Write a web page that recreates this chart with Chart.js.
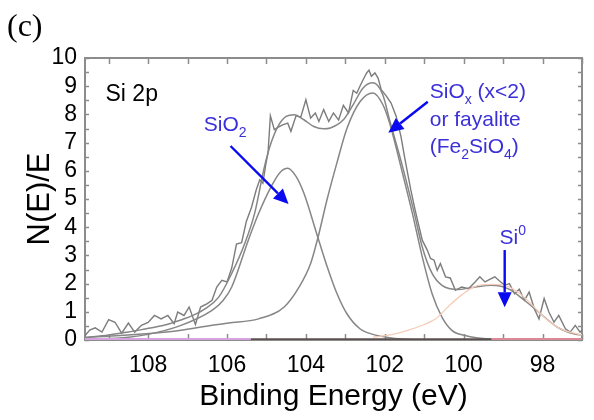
<!DOCTYPE html>
<html><head><meta charset="utf-8">
<script src="https://cdn.jsdelivr.net/npm/chart.js@4.4.0/dist/chart.umd.min.js"></script>
<style>html,body{margin:0;padding:0;background:#fff}#wrap{width:594px;height:420px;position:relative}</style>
</head><body><div id="wrap"><canvas id="c" width="594" height="420"></canvas></div>
<script>
// ---- data (binding energy in eV, intensity N(E)/E) ----
const rawBE = [109.62,109.48,109.34,109.17,109.00,108.84,108.67,108.50,108.34,108.17,108.00,107.84,107.67,107.50,107.34,107.25,107.09,106.96,106.80,106.67,106.50,106.38,106.26,106.13,106.00,105.88,105.76,105.63,105.51,105.38,105.26,105.17,105.09,105.02,104.96,104.90,104.80,104.70,104.59,104.46,104.38,104.25,104.13,104.00,103.88,103.76,103.67,103.55,103.42,103.30,103.17,103.05,102.92,102.80,102.71,102.63,102.55,102.46,102.40,102.34,102.25,102.17,102.09,101.96,101.84,101.71,101.59,101.50,101.42,101.34,101.25,101.17,101.05,100.92,100.84,100.75,100.67,100.59,100.46,100.34,100.21,100.05,99.88,99.71,99.59,99.46,99.34,99.21,99.09,98.96,98.84,98.71,98.59,98.46,98.34,98.21,98.09,97.96,97.84,97.71,97.59,97.42,97.30,97.17,97.05,96.92];
const rawVal = [0.12,0.35,0.43,0.28,0.72,0.63,0.24,0.60,0.28,0.52,0.62,0.87,0.75,0.87,0.58,0.99,0.87,1.17,0.55,1.17,1.29,1.41,1.88,2.12,2.06,2.55,3.40,3.45,4.20,4.70,5.32,5.68,5.56,6.20,6.63,7.95,7.46,7.55,7.63,7.69,7.40,7.95,7.90,8.52,7.87,8.05,7.75,8.17,7.75,8.05,7.80,8.32,8.05,8.85,8.75,9.00,9.23,9.47,9.57,9.35,9.47,9.29,8.88,8.65,8.40,7.93,7.22,6.50,5.91,5.32,4.73,4.25,3.54,3.18,2.89,2.83,2.47,2.71,2.24,2.20,1.76,1.88,1.82,2.06,2.24,2.06,2.15,2.24,2.09,1.94,2.00,1.64,1.80,1.41,1.70,1.11,0.75,1.47,0.99,0.63,0.87,0.40,0.28,0.52,0.28,0.46];

const envBE  = [109.6,109.0,108.5,108.05,107.6,107.21,106.85,106.55,106.21,105.88,105.55,105.3,105.05,104.88,104.71,104.5,104.3,104.05,103.8,103.55,103.38,103.05,102.8,102.55,102.3,102.05,101.88,101.55,101.25,101.05,100.8,100.55,100.13,99.71,99.3,98.88,98.46,98.05,97.63,97.21,96.9];
const envVal = [0.08,0.18,0.28,0.40,0.52,0.69,0.88,1.11,1.52,2.36,3.42,4.49,6.15,7.00,7.57,7.93,7.99,7.81,7.57,7.49,7.52,7.81,8.35,8.94,9.12,8.70,7.81,6.15,4.49,3.30,2.36,1.94,1.79,1.88,1.94,1.82,1.41,0.93,0.46,0.22,0.16];

const sio2BE  = [109.6,108.5,108.0,107.2,106.38,106.1,105.88,105.46,105.21,104.88,104.65,104.46,104.25,104.05,103.71,103.46,103.21,102.96,102.63,102.3,101.96,101.5,101.0,97.0];
const sio2Val = [0.02,0.10,0.20,0.50,1.05,1.40,1.88,3.54,4.45,5.44,5.95,6.09,5.80,5.20,3.70,2.60,1.64,0.93,0.40,0.20,0.10,0.03,0.01,0.0];

const sioxBE  = [109.7,108.05,107.21,106.38,105.96,105.2,104.55,104.17,103.88,103.70,103.46,103.21,102.96,102.63,102.3,102.05,101.88,101.55,101.3,101.05,100.8,100.55,100.3,99.96,99.5,99.0,97.0];
const sioxVal = [0.08,0.22,0.34,0.52,0.60,0.75,1.17,1.88,2.71,3.60,5.00,6.30,7.50,8.45,8.76,8.35,7.70,5.91,4.49,2.95,1.64,0.81,0.34,0.16,0.05,0.02,0.0];

const si0BE  = [102.3,101.8,101.38,101.0,100.71,100.38,100.05,99.71,99.3,98.96,98.63,98.3,97.96,97.55,97.13,96.9];
const si0Val = [0.10,0.20,0.36,0.55,0.75,1.20,1.60,1.90,1.97,1.94,1.70,1.29,0.81,0.40,0.22,0.15];

const baseBE1 = [109.6,105.4], baseVal1 = [0.03,0.03];
const baseBE2 = [105.4,99.3],  baseVal2 = [0.03,0.03];
const baseBE3 = [99.3,97.0],   baseVal3 = [0.03,0.03];

const xTickLabels = [108,106,104,102,100,98];

// ---- helpers ----
const pts = (xs, ys) => xs.map((v, i) => ({x: v, y: ys[i]}));
const FONT = "'Liberation Sans', Arial, sans-serif";
const GRAY = '#868686';

const lineDs = (data, color, width, smooth) => ({
  type: 'line', data, borderColor: color, borderWidth: width, pointRadius: 0,
  fill: false, tension: 0, cubicInterpolationMode: smooth ? 'monotone' : 'default'
});

const framePlugin = {
  id: 'frame',
  beforeDatasetsDraw(chart) {
    const {ctx, chartArea: {left, right, top, bottom}, scales: {x, y}} = chart;
    ctx.save();
    ctx.strokeStyle = '#8c8c8c';
    ctx.lineWidth = 1.5;
    ctx.beginPath();
    x.ticks.forEach(t => {
      const px = Math.round(x.getPixelForValue(t.value)) + 0.5;
      ctx.moveTo(px, bottom); ctx.lineTo(px, bottom - 6);
      ctx.moveTo(px, top); ctx.lineTo(px, top + 6);
    });
    y.ticks.forEach(t => {
      const py = Math.round(y.getPixelForValue(t.value)) + 0.5;
      ctx.moveTo(left, py); ctx.lineTo(left + 4, py);
      ctx.moveTo(right, py); ctx.lineTo(right - 4, py);
    });
    ctx.stroke();
    ctx.lineWidth = 2;
    ctx.strokeRect(left, top, right - left, bottom - top);
    ctx.restore();
  }
};

function arrow(ctx, x1, y1, x2, y2) {
  const ang = Math.atan2(y2 - y1, x2 - x1);
  const hl = 15, hw = 7;
  const bx = x2 - hl * Math.cos(ang), by = y2 - hl * Math.sin(ang);
  ctx.beginPath(); ctx.moveTo(x1, y1); ctx.lineTo(bx, by); ctx.stroke();
  ctx.beginPath();
  ctx.moveTo(x2, y2);
  ctx.lineTo(bx + hw * Math.sin(ang), by - hw * Math.cos(ang));
  ctx.lineTo(bx - hw * Math.sin(ang), by + hw * Math.cos(ang));
  ctx.closePath(); ctx.fill();
}

// draws a run of [text, kind] pieces; kind: 'n' normal, 'sub', 'sup'
function rich(ctx, x, y, parts, size) {
  let cx = x;
  parts.forEach(([t, k]) => {
    if (k === 'n') { ctx.font = size + 'px ' + FONT; ctx.fillText(t, cx, y); }
    else if (k === 'sub') { ctx.font = Math.round(size * 0.68) + 'px ' + FONT; ctx.fillText(t, cx, y + size * 0.28); }
    else { ctx.font = Math.round(size * 0.68) + 'px ' + FONT; ctx.fillText(t, cx, y - size * 0.42); }
    cx += ctx.measureText(t).width;
  });
}

const annoPlugin = {
  id: 'anno',
  afterDatasetsDraw(chart) {
    const {ctx, scales: {x, y}} = chart;
    const X = v => x.getPixelForValue(v), Y = v => y.getPixelForValue(v);
    ctx.save();
    ctx.textBaseline = 'alphabetic';
    ctx.textAlign = 'left';
    // panel label
    ctx.fillStyle = '#000';
    ctx.font = "32px 'Liberation Serif', 'Times New Roman', serif";
    ctx.fillText('(c)', 7, 36);
    ctx.font = '23px ' + FONT;
    ctx.fillText('Si 2p', X(109.08), Y(8.46));
    // blue labels
    const TXT = '#3b30d8';
    ctx.fillStyle = TXT;
    rich(ctx, X(106.59), Y(7.40), [['SiO', 'n'], ['2', 'sub']], 21);
    rich(ctx, X(100.86), Y(8.58), [['SiO', 'n'], ['x', 'sub'], [' (x<2)', 'n']], 21);
    rich(ctx, X(100.86), Y(7.60), [['or fayalite', 'n']], 21);
    rich(ctx, X(100.86), Y(6.63), [['(Fe', 'n'], ['2', 'sub'], ['SiO', 'n'], ['4', 'sub'], [')', 'n']], 21);
    rich(ctx, X(99.09), Y(3.40), [['Si', 'n'], ['0', 'sup']], 21);
    // arrows
    ctx.strokeStyle = '#0a0af0'; ctx.fillStyle = '#0a0af0'; ctx.lineWidth = 2.4;
    arrow(ctx, X(105.91), Y(6.88), X(104.44), Y(4.82));
    arrow(ctx, X(100.91), Y(8.45), X(101.91), Y(7.35));
    arrow(ctx, X(98.96), Y(3.19), X(98.96), Y(1.16));
    ctx.restore();
  }
};

new Chart(document.getElementById('c'), {
  type: 'line',
  data: {
    datasets: [
      lineDs(pts(baseBE1, baseVal1), '#d6a2e0', 2.5, false),
      lineDs(pts(baseBE2, baseVal2), '#5a5050', 2, false),
      lineDs(pts(baseBE3, baseVal3), '#d98a94', 2.5, false),
      lineDs(pts(si0BE, si0Val), '#f5cdb8', 1.3, true),
      lineDs(pts(sio2BE, sio2Val), GRAY, 1.5, true),
      lineDs(pts(sioxBE, sioxVal), GRAY, 1.5, true),
      lineDs(pts(envBE, envVal), GRAY, 1.5, true),
      lineDs(pts(rawBE, rawVal), '#7c7c7c', 1.4, false)
    ]
  },
  options: {
    responsive: false,
    devicePixelRatio: 1,
    animation: false,
    layout: {padding: {left: 0, right: 6, top: 58, bottom: 0}},
    plugins: {legend: {display: false}, tooltip: {enabled: false}, title: {display: false}},
    scales: {
      x: {
        type: 'linear', reverse: true, min: 97.0, max: 109.6,
        grid: {drawOnChartArea: false, drawTicks: false, color: 'transparent'},
        border: {display: false},
        ticks: {
          stepSize: 1, includeBounds: false, autoSkip: false, maxRotation: 0,
          padding: 12, color: '#000', font: {family: FONT, size: 23},
          callback: v => xTickLabels.includes(v) ? String(v) : ''
        },
        title: {display: true, text: 'Binding Energy (eV)', color: '#000',
                font: {family: FONT, size: 30, lineHeight: 1}, padding: {top: 0, bottom: 8}},
        afterFit: s => { s.height = 80; }
      },
      y: {
        min: 0, max: 10,
        grid: {drawOnChartArea: false, drawTicks: false, color: 'transparent'},
        border: {display: false},
        ticks: {
          stepSize: 0.5, autoSkip: false, padding: 8, color: '#000',
          font: {family: FONT, size: 23},
          callback: v => Number.isInteger(v) ? String(v) : ''
        },
        title: {display: true, text: 'N(E)/E', color: '#000',
                font: {family: FONT, size: 31, lineHeight: 1}, padding: {top: 25, bottom: 0}},
        afterFit: s => { s.width = 85; }
      }
    }
  },
  plugins: [framePlugin, annoPlugin]
});
</script>
</body></html>
